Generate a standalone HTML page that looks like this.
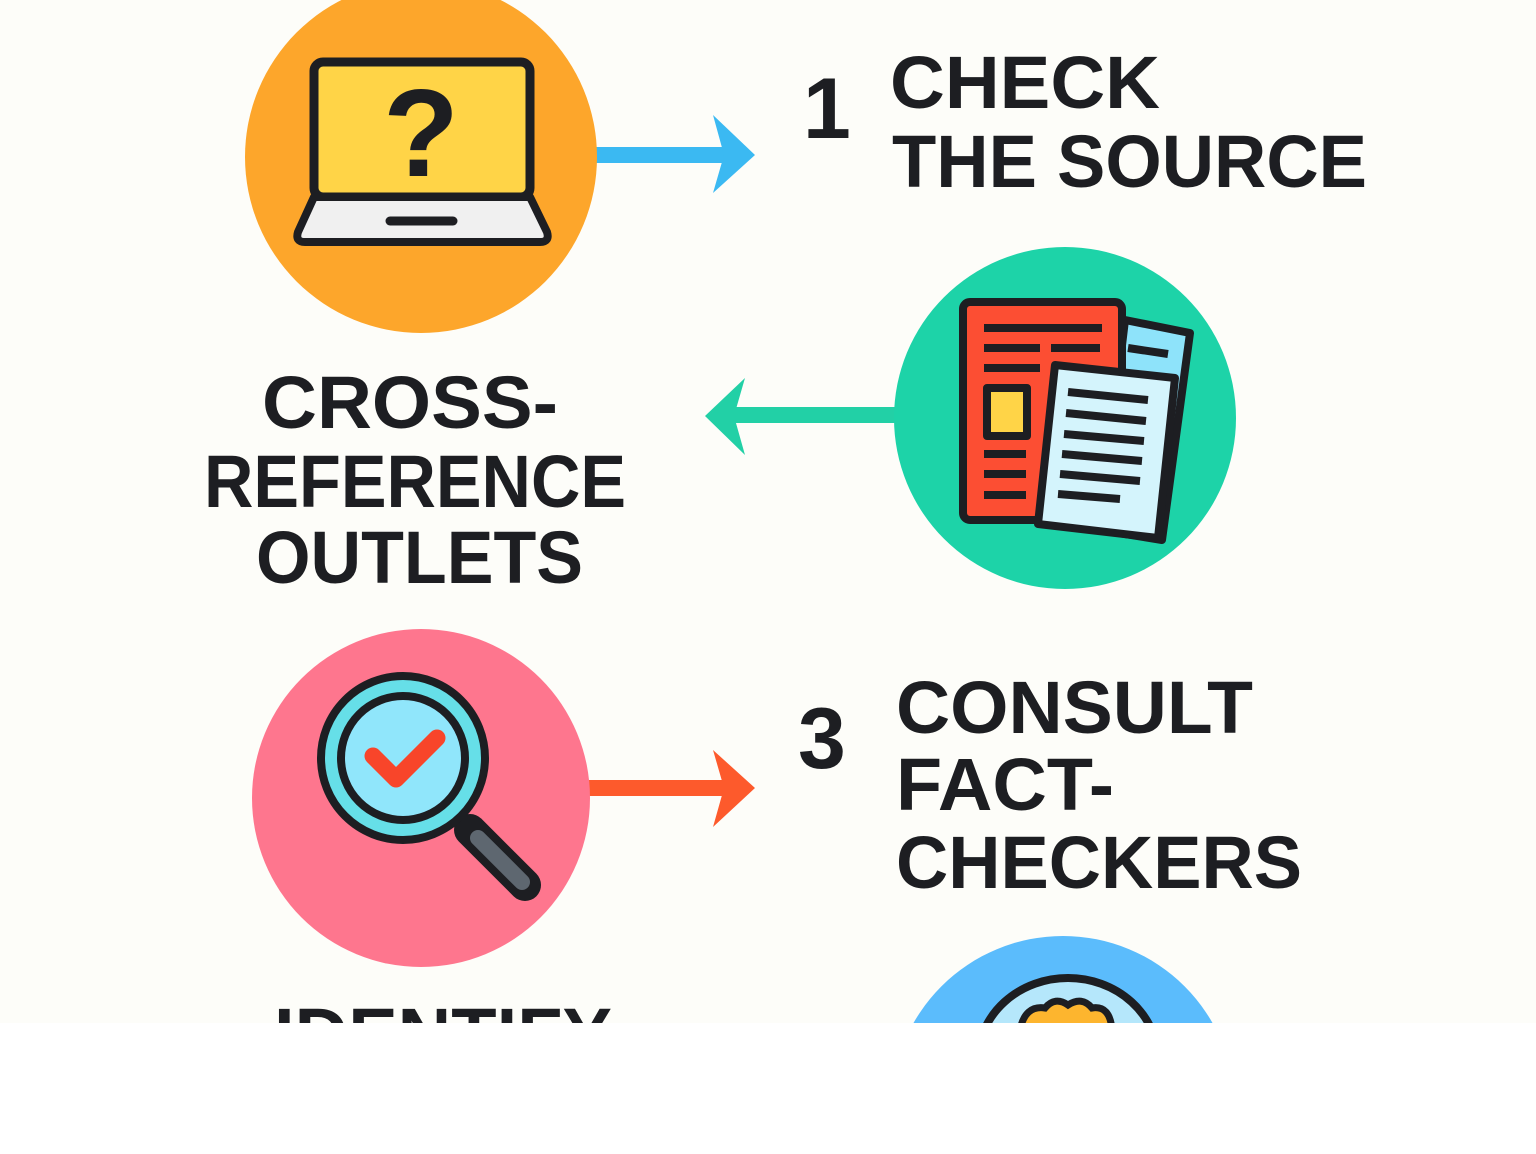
<!DOCTYPE html>
<html><head><meta charset="utf-8"><style>
html,body{margin:0;padding:0;background:#fff;width:1536px;height:1154px;overflow:hidden}
svg{display:block}
text{font-family:"Liberation Sans",Arial,sans-serif;font-weight:bold;fill:#1d1e22}
</style></head><body>
<svg width="1536" height="1154" viewBox="0 0 1536 1154" xmlns="http://www.w3.org/2000/svg">
<defs><clipPath id="c"><rect x="0" y="0" width="1536" height="1023"/></clipPath></defs>
<rect width="1536" height="1154" fill="#ffffff"/>
<g clip-path="url(#c)">
<rect width="1536" height="1023" fill="#fdfdf9"/>
<!-- arrows -->
<rect x="590" y="147" width="135" height="16" fill="#3bb9f2"/>
<path d="M713 115 L755 155 L713 193 L724 155 Z" fill="#3bb9f2"/>
<rect x="725" y="407" width="175" height="16" fill="#22d0a6"/>
<path d="M745 378 L705 416 L745 455 L734 416 Z" fill="#22d0a6"/>
<rect x="585" y="780" width="140" height="16" fill="#fd5a2c"/>
<path d="M713 750 L755 788 L713 827 L724 788 Z" fill="#fd5a2c"/>
<!-- orange circle -->
<circle cx="421" cy="157" r="176" fill="#fda62b"/>
<rect x="314" y="62" width="216" height="135" rx="9" fill="#ffd447" stroke="#1d1e22" stroke-width="9"/>
<path d="M314 197 L530 197 L547 232 Q550 242 540 242 L305 242 Q295 242 298 232 Z" fill="#f0f0f0" stroke="#1d1e22" stroke-width="8" stroke-linejoin="round"/>
<line x1="390" y1="221" x2="453" y2="221" stroke="#1d1e22" stroke-width="9" stroke-linecap="round"/>
<text x="421" y="176" font-size="124" text-anchor="middle">?</text>
<!-- teal circle -->
<circle cx="1065" cy="418" r="171" fill="#1dd3a8"/>
<g stroke="#1d1e22" stroke-width="8" stroke-linejoin="round">
<path d="M1125 320 L1190 333 L1162 540 L1100 530 Z" fill="#8ee3fa"/>
<rect x="963" y="302" width="159" height="218" rx="7" fill="#fc4e33"/>
<path d="M1055 365 L1175 378 L1158 538 L1038 524 Z" fill="#d4f4fc"/>
<rect x="987" y="388" width="40" height="48" fill="#ffd447"/>
</g>
<g stroke="#1d1e22" stroke-width="8">
<line x1="984" y1="328" x2="1102" y2="328"/>
<line x1="984" y1="348" x2="1040" y2="348"/><line x1="1051" y1="348" x2="1100" y2="348"/>
<line x1="984" y1="368" x2="1040" y2="368"/>
<line x1="984" y1="454" x2="1026" y2="454"/>
<line x1="984" y1="474" x2="1026" y2="474"/>
<line x1="984" y1="495" x2="1026" y2="495"/>
<line x1="1128" y1="348" x2="1168" y2="354"/>
<line x1="1068" y1="392" x2="1148" y2="400"/>
<line x1="1066" y1="413" x2="1146" y2="421"/>
<line x1="1064" y1="434" x2="1144" y2="441"/>
<line x1="1062" y1="454" x2="1142" y2="461"/>
<line x1="1060" y1="474" x2="1140" y2="481"/>
<line x1="1058" y1="494" x2="1120" y2="499"/>
</g>
<!-- pink circle -->
<circle cx="421" cy="798" r="169" fill="#fe768e"/>
<line x1="470" y1="830" x2="525" y2="885" stroke="#1d1e22" stroke-width="32" stroke-linecap="round"/>
<line x1="478" y1="838" x2="522" y2="882" stroke="#5e6770" stroke-width="16" stroke-linecap="round"/>
<circle cx="403" cy="758" r="82" fill="#66dfe8" stroke="#1d1e22" stroke-width="8"/>
<circle cx="403" cy="758" r="62" fill="#90e6fb" stroke="#1d1e22" stroke-width="8"/>
<path d="M373 756 L396 779 L437 738" fill="none" stroke="#f8452a" stroke-width="17" stroke-linecap="round" stroke-linejoin="round"/>
<!-- blue circle -->
<circle cx="1063" cy="1108" r="172" fill="#5bbcfc"/>
<ellipse cx="1068" cy="1060" rx="90" ry="82" fill="#b5e7fb" stroke="#1d1e22" stroke-width="8"/>
<path d="M1020 1030 Q1025 1005 1045 1008 Q1055 996 1068 1005 Q1082 996 1092 1008 Q1110 1005 1112 1030 Z" fill="#fdb52e" stroke="#1d1e22" stroke-width="7"/>
<!-- texts -->
<text x="803" y="138" font-size="86">1</text>
<text x="890" y="108" font-size="74" textLength="270" lengthAdjust="spacingAndGlyphs">CHECK</text>
<text x="892" y="187" font-size="74" textLength="475" lengthAdjust="spacingAndGlyphs">THE SOURCE</text>
<text x="262" y="428" font-size="74" textLength="296" lengthAdjust="spacingAndGlyphs">CROSS-</text>
<text x="204" y="507" font-size="74" textLength="422" lengthAdjust="spacingAndGlyphs">REFERENCE</text>
<text x="256" y="583" font-size="74" textLength="327" lengthAdjust="spacingAndGlyphs">OUTLETS</text>
<text x="798" y="768" font-size="86">3</text>
<text x="896" y="733" font-size="74" textLength="357" lengthAdjust="spacingAndGlyphs">CONSULT</text>
<text x="896" y="810" font-size="74" textLength="218" lengthAdjust="spacingAndGlyphs">FACT-</text>
<text x="896" y="888" font-size="74" textLength="406" lengthAdjust="spacingAndGlyphs">CHECKERS</text>
<text x="274" y="1060" font-size="74" textLength="338" lengthAdjust="spacingAndGlyphs">IDENTIFY</text>
</g>
</svg>
</body></html>
